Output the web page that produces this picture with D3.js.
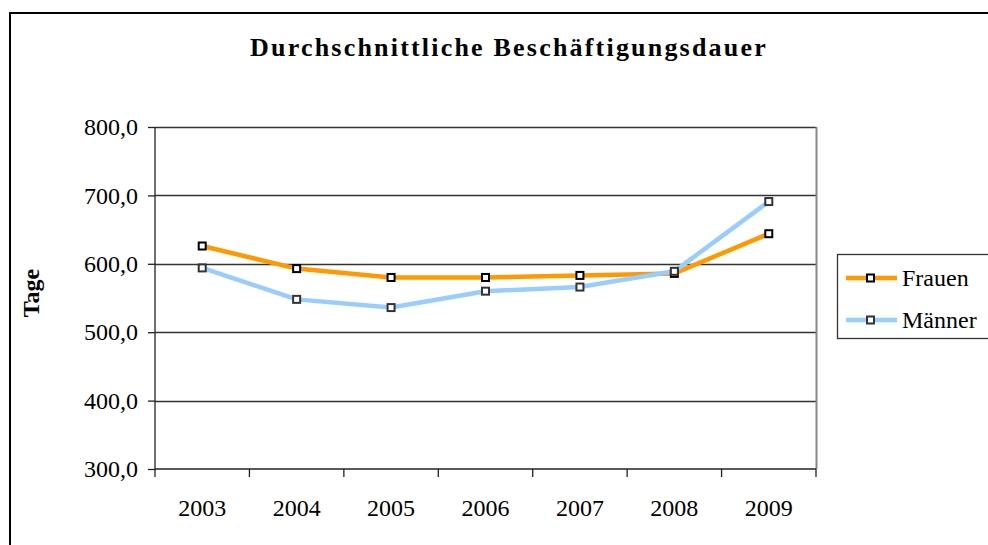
<!DOCTYPE html>
<html>
<head>
<meta charset="utf-8">
<script src="https://cdn.jsdelivr.net/npm/d3@7"></script>
<style>
    body { margin: 0; background: #fff; overflow: hidden; }
    text { font-family: "Liberation Serif", "Times New Roman", serif; fill: #000; }
</style>
</head>
<body>
<div id="chart"></div>
<script>
// --- Data ---
const years = ["2003", "2004", "2005", "2006", "2007", "2008", "2009"];
const frauen = [626, 593, 580, 580, 583, 586, 644];
const maenner = [594, 548, 536, 560, 566, 589, 691];
const yTicks = [300, 400, 500, 600, 700, 800];

const seriesNames = ["Frauen", "Männer"];
const seriesColors = ["#FF9900", "#99CCFF"];

// --- Rendering ---
const width = 988, height = 545;
const margin = { top: 127, right: 172, bottom: 76, left: 155 };

const svg = d3.select("#chart")
    .append("svg")
    .attr("width", width)
    .attr("height", height);

// outer chart frame (runs off the right/bottom edge)
svg.append("rect")
    .attr("x", 10).attr("y", 13)
    .attr("width", 1000).attr("height", 600)
    .attr("fill", "none")
    .attr("stroke", "#000")
    .attr("stroke-width", 2);

const x = d3.scaleBand()
    .domain(years)
    .range([margin.left, width - margin.right]);

const y = d3.scaleLinear()
    .domain([300, 800])
    .range([height - margin.bottom, margin.top]);

// gridlines
svg.append("g")
    .selectAll("line")
    .data(yTicks.slice(1))
    .join("line")
    .attr("x1", margin.left)
    .attr("x2", width - margin.right)
    .attr("y1", d => Math.round(y(d)) + 0.5)
    .attr("y2", d => Math.round(y(d)) + 0.5)
    .attr("stroke", "#333")
    .attr("stroke-width", 1.3);

// plot area right border (grey)
svg.append("line")
    .attr("x1", width - margin.right + 0.5).attr("x2", width - margin.right + 0.5)
    .attr("y1", margin.top).attr("y2", height - margin.bottom)
    .attr("stroke", "#888").attr("stroke-width", 2);

// y axis
const yAxis = svg.append("g")
    .attr("transform", `translate(${margin.left},0)`)
    .call(d3.axisLeft(y)
        .tickValues(yTicks)
        .tickSize(7)
        .tickPadding(10)
        .tickFormat(d => d3.format(".1f")(d).replace(".", ",")));
yAxis.selectAll("path, line").attr("stroke", "#222").attr("stroke-width", 1.3);
yAxis.select(".domain").attr("d", `M0,${margin.top}V${height - margin.bottom}`);
yAxis.selectAll("text")
    .style("font-family", "'Liberation Serif', serif")
    .style("font-size", "24px")
    .attr("fill", "#000");

// x axis: ticks on category boundaries
const xAxis = svg.append("g")
    .attr("transform", `translate(0,${height - margin.bottom})`);
xAxis.append("line")
    .attr("x1", margin.left).attr("x2", width - margin.right)
    .attr("stroke", "#222").attr("stroke-width", 1.5);
const bounds = years.map(d => x(d)).concat([x(years[years.length - 1]) + x.bandwidth()]);
xAxis.selectAll(".tk")
    .data(bounds)
    .join("line")
    .attr("class", "tk")
    .attr("x1", d => d).attr("x2", d => d)
    .attr("y1", 0).attr("y2", 8)
    .attr("stroke", "#222").attr("stroke-width", 1.3);
xAxis.selectAll("text")
    .data(years)
    .join("text")
    .attr("x", d => x(d) + x.bandwidth() / 2)
    .attr("y", 47)
    .attr("text-anchor", "middle")
    .style("font-size", "24px")
    .text(d => d);

// lines
const line = d3.line()
    .x((d, i) => x(years[i]) + x.bandwidth() / 2)
    .y(d => y(d));

[frauen, maenner].forEach((values, s) => {
    svg.append("path")
        .datum(values)
        .attr("fill", "none")
        .attr("stroke", seriesColors[s])
        .attr("stroke-width", 4.5)
        .attr("stroke-linejoin", "round")
        .attr("d", line);
});

[frauen, maenner].forEach((values, s) => {
    svg.append("g")
        .selectAll("rect")
        .data(values)
        .join("rect")
        .attr("x", (d, i) => x(years[i]) + x.bandwidth() / 2 - 3.5)
        .attr("y", d => y(d) - 3.5)
        .attr("width", 7)
        .attr("height", 7)
        .attr("fill", "#fff")
        .attr("stroke", s === 0 ? "#000" : "#333")
        .attr("stroke-width", 2);
});

// title
svg.append("text")
    .attr("x", 509)
    .attr("y", 56)
    .attr("text-anchor", "middle")
    .style("font-size", "26px")
    .style("font-weight", "bold")
    .style("letter-spacing", "2.2px")
    .text("Durchschnittliche Beschäftigungsdauer");

// y label
svg.append("text")
    .attr("transform", `translate(39,293) rotate(-90)`)
    .attr("text-anchor", "middle")
    .style("font-size", "24px")
    .style("font-weight", "bold")
    .text("Tage");

// legend
const legend = svg.append("g").attr("transform", "translate(837,254)");
legend.append("rect")
    .attr("x", 0.5).attr("y", 0.5)
    .attr("width", 200).attr("height", 84)
    .attr("fill", "#fff")
    .attr("stroke", "#333")
    .attr("stroke-width", 1.3);

seriesNames.forEach((name, i) => {
    const g = legend.append("g").attr("transform", `translate(0,${24 + i * 42})`);
    g.append("line")
        .attr("x1", 9).attr("x2", 60)
        .attr("stroke", seriesColors[i])
        .attr("stroke-width", 4.5);
    g.append("rect")
        .attr("x", 30).attr("y", -3.5)
        .attr("width", 7).attr("height", 7)
        .attr("fill", "#fff")
        .attr("stroke", i === 0 ? "#000" : "#333")
        .attr("stroke-width", 2);
    g.append("text")
        .attr("x", 65)
        .attr("y", 8)
        .style("font-size", "24px")
        .text(name);
});
</script>
</body>
</html>
